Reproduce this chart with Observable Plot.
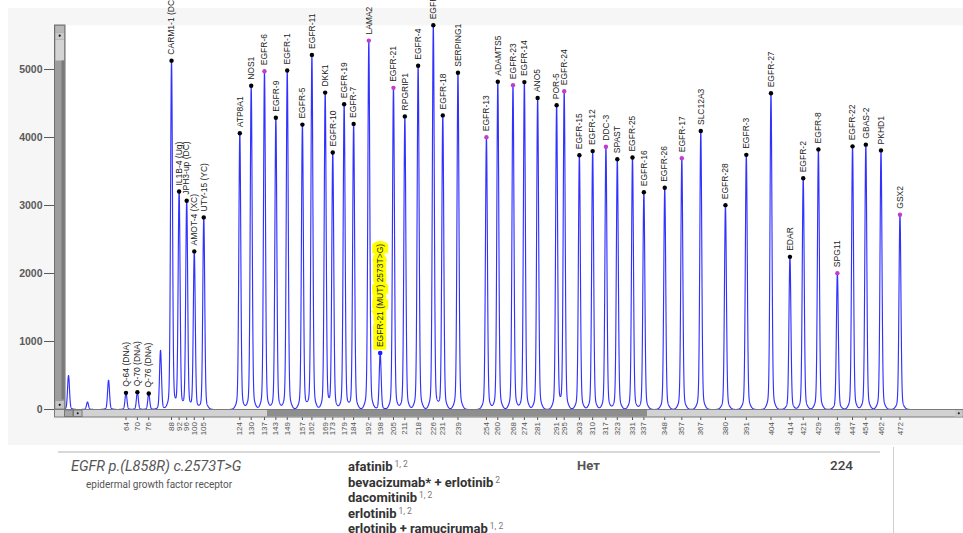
<!DOCTYPE html>
<html>
<head>
<meta charset="utf-8">
<script src="https://cdn.jsdelivr.net/npm/d3@7"></script>
<script src="https://cdn.jsdelivr.net/npm/@observablehq/plot@0.6"></script>
<style>
  body { margin: 0; background: #fff; }
  #wrap { position: relative; width: 963px; height: 533px; overflow: hidden; font-family: Roboto, "Liberation Sans", Arial, sans-serif; }
  #chart { position: absolute; left: 0; top: 0; }
  .abs { position: absolute; white-space: nowrap; }
  #hline { left: 58px; top: 451px; width: 822px; height: 0; border-top: 2px solid #d8d8d8; }
  #vline { left: 893px; top: 447px; width: 0; height: 86px; border-left: 1px solid #cfcfcf; }
  #gene { left: 71px; top: 460px; font-size: 14.5px; line-height: 14px; font-style: italic; color: #555; }
  #genedesc { left: 86px; top: 480px; font-size: 10px; line-height: 10px; color: #555; }
  #drugs { left: 348px; top: 459px; font-size: 13px; line-height: 15.5px; font-weight: bold; color: #333; }
  #drugs sup { font-size: 8.5px; font-weight: normal; color: #777; vertical-align: 4px; line-height: 0; margin-left: 2px; }
  #avail { left: 577px; top: 458px; font-size: 13px; line-height: 15px; font-weight: bold; color: #555; }
  #count { left: 830px; top: 458px; font-size: 13.5px; line-height: 15px; font-weight: 500; color: #444; }
</style>
</head>
<body>
<div id="wrap">
  <div id="chart"></div>
  <div class="abs" id="hline"></div>
  <div class="abs" id="vline"></div>
  <div class="abs" id="gene"></div>
  <div class="abs" id="genedesc"></div>
  <div class="abs" id="drugs"></div>
  <div class="abs" id="avail"></div>
  <div class="abs" id="count"></div>
</div>
<script>
// ---------- data ----------
// labelled peaks: fragment size (bp), peak height (RFU), probe name
const peakSizes = [64, 70, 76, 88, 92, 96, 100, 105, 124, 130, 137, 143, 149, 157, 162, 169, 173, 179, 184, 192,
  198, 205, 211, 218, 226, 231, 239, 254, 260, 268, 274, 281, 291, 295, 303, 310, 317, 323, 331, 337,
  348, 357, 367, 380, 391, 404, 414, 421, 429, 439, 447, 454, 462, 472];
const peakHeights = [245, 255, 235, 5130, 3205, 3070, 2325, 2825, 4062, 4760, 4975, 4290, 4985, 4190, 5215, 4660, 3780, 4490, 4200, 5425,
  830, 4730, 4310, 5055, 5650, 4325, 4952, 4005, 4820, 4770, 4815, 4580, 4475, 4680, 3740, 3800, 3865, 3680, 3705, 3195,
  3260, 3695, 4095, 3005, 3745, 4650, 2245, 3400, 3825, 2005, 3870, 3895, 3810, 2865];
const peakLabels = ["Q-64 (DNA)", "Q-70 (DNA)", "Q-76 (DNA)", "CARM1-1 (DC)", "IL1B-4 (Ug)", "JPH3-up (DC)", "AMOT-4 (XC)", "UTY-15 (YC)",
  "ATP8A1", "NOS1", "EGFR-6", "EGFR-9", "EGFR-1", "EGFR-5", "EGFR-11", "DKK1", "EGFR-10", "EGFR-19", "EGFR-7", "LAMA2",
  "EGFR-21 (MUT) 2573T>G)", "EGFR-21", "RPGRIP1", "EGFR-4", "EGFR-20", "EGFR-18", "SERPING1",
  "EGFR-13", "ADAMTS5", "EGFR-23", "EGFR-14", "ANO5", "POR-5", "EGFR-24",
  "EGFR-15", "EGFR-12", "DDC-3", "SPAST", "EGFR-25", "EGFR-16",
  "EGFR-26", "EGFR-17", "SLC12A3", "EGFR-28", "EGFR-3", "EGFR-27",
  "EDAR", "EGFR-2", "EGFR-8", "SPG11", "EGFR-22", "GBAS-2", "PKHD1", "GSX2"];
// probes flagged (magenta marker) and the mutation-specific probe (highlighted)
const flaggedProbes = ["EGFR-6", "LAMA2", "EGFR-21", "EGFR-13", "EGFR-23", "EGFR-24", "DDC-3", "EGFR-17", "SPG11", "GSX2"];
const mutantProbe = "EGFR-21 (MUT) 2573T>G)";
// unlabelled peaks (primer / size-marker region)
const minorSizes = [33.7, 43.7, 54.8, 82.2];
const minorHeights = [500, 110, 430, 870];
// axes
const yTicks = [0, 1000, 2000, 3000, 4000, 5000];
const xTicks = peakSizes;
// result table
const geneName = "EGFR p.(L858R) c.2573T>G";
const geneDesc = "epidermal growth factor receptor";
const drugNames = ["afatinib", "bevacizumab* + erlotinib", "dacomitinib", "erlotinib", "erlotinib + ramucirumab"];
const drugRefs = ["1, 2", "2", "1, 2", "1, 2", "1, 2"];
const availText = "Нет";
const countText = "224";

// ---------- build tables ----------
const peaks = peakSizes.map((s, i) => ({size: s, height: peakHeights[i], label: peakLabels[i]}));
const allPeaks = peaks.concat(minorSizes.map((s, i) => ({size: s, height: minorHeights[i]})));

// electropherogram trace: each peak rendered with a narrow peak profile
const xDomain = [32.11, 505.49];
const trace = [];
for (let s = xDomain[0]; s <= xDomain[1]; s += 0.04) {
  let v = 0;
  for (const p of allPeaks) {
    const d = s - p.size;
    if (Math.abs(d) < 8) v += p.height * (0.95 * Math.exp(-d * d / (2 * 0.5 * 0.5)) + 0.05 * Math.exp(-d * d / (2 * 1.5 * 1.5)));
  }
  trace.push({s, v});
}

const normalPeaks = peaks.filter(p => p.label !== mutantProbe);
const mutPeaks = peaks.filter(p => p.label === mutantProbe);

const W = 963, H = 445, ML = 65, MT = 25, MB = 36;
const plot = Plot.plot({
  width: W, height: H,
  marginLeft: ML, marginRight: 0, marginTop: MT, marginBottom: MB,
  style: {background: "transparent", overflow: "visible", fontFamily: "'Liberation Sans', Arial, sans-serif"},
  x: {domain: xDomain, label: null},
  y: {domain: [0, 5647], label: null},
  marks: [
    Plot.frame({fill: "white", stroke: "none"}),
    Plot.axisY({ticks: yTicks, tickSize: 21, tickPadding: 2, fontSize: 10.5, fontWeight: "bold", color: "#5a5a5a", tickFormat: d => String(d), label: null}),
    Plot.axisX({ticks: xTicks, tickSize: 11, tickPadding: 1.5, tickRotate: -90, textAnchor: "end", fontSize: 8, color: "#555", tickFormat: d => String(d), label: null}),
    Plot.line(trace, {x: "s", y: "v", stroke: "#3232ff", strokeWidth: 1.15, clip: true}),
    // highlight box behind the mutant probe label
    Plot.text(mutPeaks, {x: "size", y: "height", text: "label", rotate: -90, textAnchor: "start", dy: -6, fontSize: 8.5,
      fill: "#ffff00", stroke: "#ffff00", strokeWidth: 7, strokeLinejoin: "miter"}),
    Plot.text(peaks, {x: "size", y: "height", text: "label", rotate: -90, textAnchor: "start", dy: -6, fontSize: 8.5, fill: "#1c1c1c"}),
    Plot.dot(normalPeaks, {x: "size", y: "height", r: 2.2, stroke: "none",
      fill: d => flaggedProbes.includes(d.label) ? "#c23ccf" : "#000"}),
    Plot.dot(mutPeaks, {x: "size", y: "height", r: 2.3, fill: "#1d1dff", stroke: "none"})
  ]
});

// panel background and scrollbar chrome of the analysis window
const svg = d3.select(plot);
svg.insert("rect", ":first-child").attr("x", 8).attr("y", 8).attr("width", W - 8).attr("height", H - 8).attr("fill", "#f6f6f6");
const chrome = svg.append("g");
const yBase = H - MB;
// vertical scrollbar
chrome.append("rect").attr("x", 54.5).attr("y", MT).attr("width", ML - 54.5).attr("height", yBase - MT).attr("fill", "#9d9d9d").attr("stroke", "#6f6f6f");
chrome.append("rect").attr("x", 55.5).attr("y", MT + 1).attr("width", 8.5).attr("height", 6).attr("fill", "#b8b8b8");
chrome.append("rect").attr("x", 55.5).attr("y", MT + 7.5).attr("width", 8.5).attr("height", 6.5).attr("fill", "#c9c9c9");
chrome.append("circle").attr("cx", 59.7).attr("cy", MT + 10.7).attr("r", 1.1).attr("fill", "#111");
chrome.append("rect").attr("x", 55.5).attr("y", MT + 14.5).attr("width", 8.5).attr("height", 21).attr("fill", "#d4d4d4");
chrome.append("rect").attr("x", 61.5).attr("y", MT + 35.5).attr("width", 3).attr("height", yBase - MT - 45).attr("fill", "#7a7a7a");
chrome.append("rect").attr("x", 55.5).attr("y", yBase - 8).attr("width", 8.5).attr("height", 7.5).attr("fill", "#c4c4c4");
chrome.append("circle").attr("cx", 59.7).attr("cy", yBase - 4.2).attr("r", 1.1).attr("fill", "#111");
// horizontal scrollbar
chrome.append("rect").attr("x", 54.5).attr("y", yBase + 0.5).attr("width", W - 54.5).attr("height", 7.5).attr("fill", "#d2d2d2").attr("stroke", "#7a7a7a");
chrome.append("rect").attr("x", 267).attr("y", yBase + 1).attr("width", 380).attr("height", 6.5).attr("fill", "#8e8e8e");
chrome.append("rect").attr("x", 64.5).attr("y", yBase + 1).attr("width", 8.5).attr("height", 6.5).attr("fill", "#a6a6a6").attr("stroke", "#777");
chrome.append("rect").attr("x", 73.5).attr("y", yBase + 1).attr("width", 8.5).attr("height", 6.5).attr("fill", "#bdbdbd").attr("stroke", "#777");
chrome.append("circle").attr("cx", 77.7).attr("cy", yBase + 4.3).attr("r", 1).attr("fill", "#111");
chrome.append("rect").attr("x", W - 8).attr("y", yBase + 1).attr("width", 7.5).attr("height", 6.5).attr("fill", "#c8c8c8");
chrome.append("circle").attr("cx", W - 4.2).attr("cy", yBase + 4.3).attr("r", 1).attr("fill", "#111");

document.getElementById("chart").appendChild(plot);

// result table under the chart
document.getElementById("gene").textContent = geneName;
document.getElementById("genedesc").textContent = geneDesc;
document.getElementById("drugs").innerHTML = drugNames.map((d, i) => `<div>${d.replace(/&/g, "&amp;")}<sup>${drugRefs[i]}</sup></div>`).join("");
document.getElementById("avail").textContent = availText;
document.getElementById("count").textContent = countText;
</script>
</body>
</html>
